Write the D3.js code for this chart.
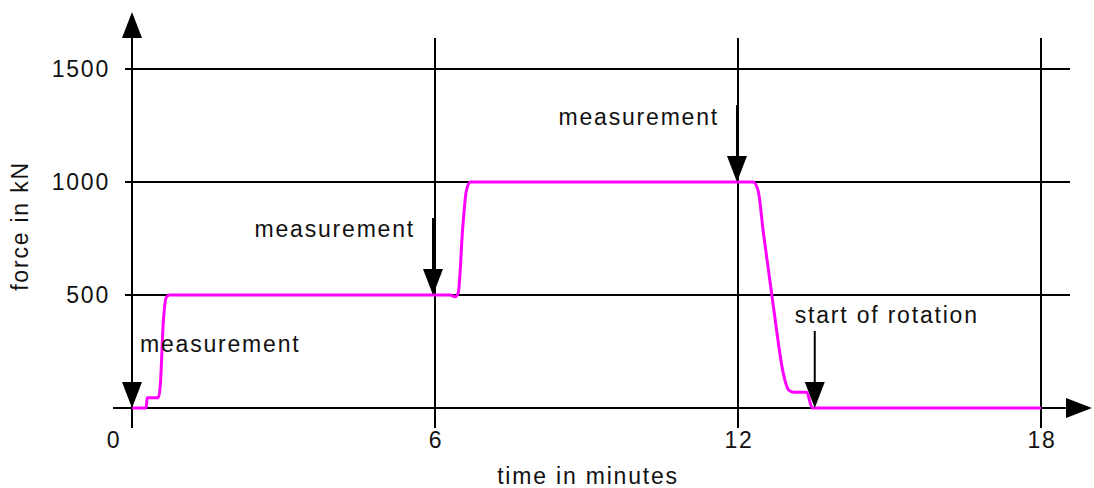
<!DOCTYPE html>
<html lang="en">
<head>
<meta charset="utf-8">
<script src="https://d3js.org/d3.v7.min.js"></script>
<style type="text/css">
body {
	margin: 0;
	background-color: #ffffff;
}
text {
	font-family: "Liberation Sans", Arial, sans-serif;
	font-size: 23px;
	letter-spacing: 1.8px;
	fill: #111;
}
</style>
</head>
<body>
<script type="text/javascript">

// force curve: time in minutes, force in kN
var times  = [0, 0.28, 0.3, 0.52, 0.56, 0.62, 0.68, 0.74, 6.3, 6.4, 6.46, 6.55, 6.62, 6.7, 12.3, 12.4, 12.5, 12.7, 12.9, 13.0, 13.1, 13.36, 13.47, 18];
var forces = [0, 0, 45, 45, 100, 380, 490, 500, 500, 492, 510, 800, 960, 1000, 1000, 960, 780, 450, 150, 80, 70, 70, 0, 0];

var xTicks = [0, 6, 12, 18];
var yTicks = [500, 1000, 1500];

// annotation arrows
var noteTimes  = [0, 5.96, 11.98, 13.52];
var noteForces = [0, 500, 1000, 0];
var noteLabels = ["measurement", "measurement", "measurement", "start of rotation"];

var width = 1094, height = 488;

var x = d3.scaleLinear().domain([0, 18]).range([132, 1041]);
var y = d3.scaleLinear().domain([0, 1500]).range([408, 69]);

var svg = d3.select("body").append("svg")
	.attr("width", width)
	.attr("height", height);

// horizontal grid
svg.selectAll("line.hgrid")
	.data(yTicks)
	.enter().append("line")
	.attr("class", "hgrid")
	.attr("x1", x(0) - 7).attr("x2", 1070)
	.attr("y1", function(d) { return y(d); })
	.attr("y2", function(d) { return y(d); })
	.style("stroke", "#000").style("stroke-width", 2);

// vertical grid
svg.selectAll("line.vgrid")
	.data(xTicks.slice(1))
	.enter().append("line")
	.attr("class", "vgrid")
	.attr("x1", function(d) { return x(d); })
	.attr("x2", function(d) { return x(d); })
	.attr("y1", 38).attr("y2", y(0) + 20)
	.style("stroke", "#000").style("stroke-width", 2);

// axes with arrow heads
svg.append("line")
	.attr("x1", x(0)).attr("x2", x(0))
	.attr("y1", 30).attr("y2", y(0) + 20)
	.style("stroke", "#000").style("stroke-width", 2);
svg.append("path")
	.attr("d", "M" + x(0) + ",12 L" + (x(0) - 10) + ",38 L" + (x(0) + 10) + ",38 Z")
	.style("fill", "#000");

svg.append("line")
	.attr("x1", x(0) - 19).attr("x2", 1075)
	.attr("y1", y(0)).attr("y2", y(0))
	.style("stroke", "#000").style("stroke-width", 2);
svg.append("path")
	.attr("d", "M1092," + y(0) + " L1066," + (y(0) - 10) + " L1066," + (y(0) + 10) + " Z")
	.style("fill", "#000");

// tick labels
svg.selectAll("text.ylab")
	.data(yTicks)
	.enter().append("text")
	.attr("class", "ylab")
	.attr("x", 110)
	.attr("y", function(d) { return y(d) + 8; })
	.attr("text-anchor", "end")
	.text(function(d) { return d; });

svg.selectAll("text.xlab")
	.data(xTicks)
	.enter().append("text")
	.attr("class", "xlab")
	.attr("x", function(d) { return d === 0 ? x(d) - 18 : x(d) + 1; })
	.attr("y", 448)
	.attr("text-anchor", "middle")
	.text(function(d) { return d; });

// axis titles
svg.append("text")
	.attr("x", 588).attr("y", 484)
	.attr("text-anchor", "middle")
	.text("time in minutes");

svg.append("text")
	.attr("transform", "translate(28,226) rotate(-90)")
	.attr("text-anchor", "middle")
	.text("force in kN");

// force curve
var pts = times.map(function(t, i) { return [t, forces[i]]; });
var line = d3.line()
	.x(function(d) { return x(d[0]); })
	.y(function(d) { return y(d[1]); })
	.curve(d3.curveMonotoneX);

svg.append("path")
	.datum(pts)
	.attr("d", line)
	.style("fill", "none")
	.style("stroke", "#ff00ff")
	.style("stroke-width", 3);

// annotation arrows + labels
var labelOffsets = [[8, -56, "start"], [-18, -58, "end"], [-18, -57, "end"], [-20, -85, "start"]];

noteTimes.forEach(function(t, i) {
	var px = x(t), py = y(noteForces[i]);
	svg.append("line")
		.attr("x1", px).attr("x2", px)
		.attr("y1", py - 77).attr("y2", py - 20)
		.style("stroke", "#000").style("stroke-width", 2);
	svg.append("path")
		.attr("d", "M" + px + "," + py + " L" + (px - 10) + "," + (py - 26) + " L" + (px + 10) + "," + (py - 26) + " Z")
		.style("fill", "#000");
	var o = labelOffsets[i];
	svg.append("text")
		.attr("x", px + o[0]).attr("y", py + o[1])
		.attr("text-anchor", o[2])
		.text(noteLabels[i]);
});

</script>
</body>
</html>
